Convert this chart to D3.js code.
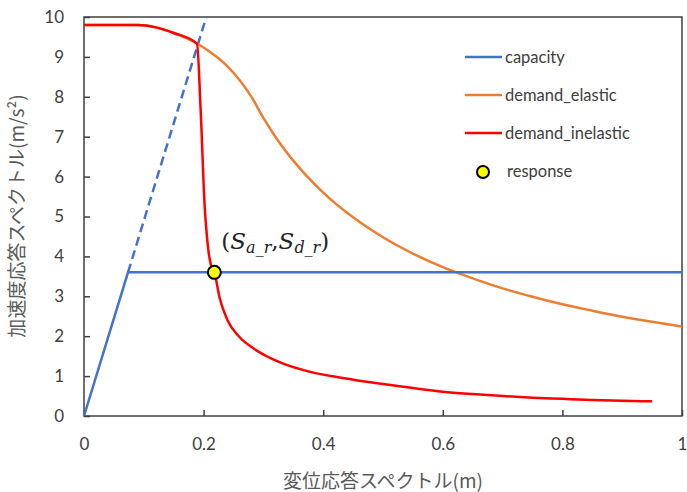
<!DOCTYPE html>
<html>
<head>
<meta charset="utf-8">
<script src="https://d3js.org/d3.v7.min.js"></script>
<style>
  body { margin: 0; background: #fff; }
  text { font-family: Lato, "Noto Sans CJK JP", sans-serif; }
</style>
</head>
<body>
<svg id="chart" width="687" height="492"></svg>
<script>
// capacity curve (bilinear) and its elastic extension
var capacitySd = [0, 0.0736, 1.0];
var capacitySa = [0, 3.6, 3.6];
var extensionSd = [0.0736, 0.2045];
var extensionSa = [3.6, 10];

// elastic demand spectrum
var elasticSd = [0, 0.05, 0.09, 0.12, 0.15, 0.19, 0.22, 0.24, 0.26, 0.28, 0.3, 0.32, 0.35, 0.4, 0.45, 0.5, 0.55, 0.6, 0.65, 0.7, 0.75, 0.8, 0.85, 0.9, 0.95, 1.0];
var elasticSa = [9.8, 9.8, 9.8, 9.74, 9.6, 9.33, 9.02, 8.76, 8.42, 8.0, 7.47, 7.0, 6.4, 5.6, 4.98, 4.48, 4.07, 3.73, 3.45, 3.2, 2.99, 2.8, 2.64, 2.49, 2.36, 2.24];

// inelastic demand spectrum
var inelasticSd = [0, 0.05, 0.09, 0.12, 0.15, 0.189, 0.195, 0.202, 0.205, 0.208, 0.212, 0.218, 0.227, 0.24, 0.26, 0.285, 0.33, 0.38, 0.43, 0.5, 0.55, 0.6, 0.65, 0.7, 0.75, 0.8, 0.85, 0.9, 0.95];
var inelasticSa = [9.8, 9.8, 9.8, 9.74, 9.6, 9.33, 7.7, 5.2, 4.6, 4.15, 3.8, 3.6, 2.95, 2.4, 1.98, 1.68, 1.33, 1.1, 0.96, 0.8, 0.7, 0.61, 0.55, 0.5, 0.46, 0.43, 0.4, 0.38, 0.37];

// response point
var responseSd = [0.218];
var responseSa = [3.6];

var xTicks = [0, 0.2, 0.4, 0.6, 0.8, 1];
var yTicks = [0, 1, 2, 3, 4, 5, 6, 7, 8, 9, 10];

var legendNames = ["capacity", "demand_elastic", "demand_inelastic", "response"];
var colors = { capacity: "#4472C4", elastic: "#ED7D31", inelastic: "#FF0000" };

var svg = d3.select("#chart");
var margin = { left: 84, top: 17, right: 5, bottom: 76 };
var width = 682 - margin.left, height = 416 - margin.top;

var x = d3.scaleLinear().domain([0, 1]).range([margin.left, margin.left + width]);
var y = d3.scaleLinear().domain([0, 10]).range([margin.top + height, margin.top]);

function pts(xs, ys) { return xs.map(function (v, i) { return [v, ys[i]]; }); }

var line = d3.line()
    .x(function (d) { return x(d[0]); })
    .y(function (d) { return y(d[1]); });
var smooth = d3.line()
    .x(function (d) { return x(d[0]); })
    .y(function (d) { return y(d[1]); })
    .curve(d3.curveMonotoneX);

// axes with inside ticks
var xAxis = svg.append("g")
    .attr("transform", "translate(0," + y(0) + ")")
    .call(d3.axisBottom(x).tickValues(xTicks).tickSizeInner(-6).tickSizeOuter(0).tickPadding(22)
        .tickFormat(function (d) { return d === 0 ? "0" : d === 1 ? "1" : d3.format(".1f")(d); }));
var yAxis = svg.append("g")
    .attr("transform", "translate(" + x(0) + ",0)")
    .call(d3.axisLeft(y).tickValues(yTicks).tickSizeInner(-6).tickSizeOuter(0).tickPadding(20));

[xAxis, yAxis].forEach(function (g) {
    g.select(".domain").remove();
    g.selectAll(".tick line").attr("stroke", "#404040").attr("stroke-width", 1.5);
    g.selectAll(".tick text").attr("fill", "#404040").style("font-size", "17px")
        .style("font-family", "Lato, sans-serif");
});

// plot frame
svg.append("rect")
    .attr("x", x(0)).attr("y", y(10))
    .attr("width", x(1) - x(0)).attr("height", y(0) - y(10))
    .attr("fill", "none").attr("stroke", "#404040").attr("stroke-width", 1.5);

// curves
svg.append("path").attr("d", line(pts(extensionSd, extensionSa)))
    .attr("fill", "none").attr("stroke", colors.capacity).attr("stroke-width", 2.5)
    .attr("stroke-dasharray", "9,5");
svg.append("path").attr("d", smooth(pts(elasticSd, elasticSa)))
    .attr("fill", "none").attr("stroke", colors.elastic).attr("stroke-width", 2.5);
svg.append("path").attr("d", line(pts(capacitySd, capacitySa)))
    .attr("fill", "none").attr("stroke", colors.capacity).attr("stroke-width", 2.5);
svg.append("path").attr("d", smooth(pts(inelasticSd, inelasticSa)))
    .attr("fill", "none").attr("stroke", colors.inelastic).attr("stroke-width", 2.5);

svg.selectAll(".resp").data(pts(responseSd, responseSa)).enter().append("circle")
    .attr("cx", function (d) { return x(d[0]); })
    .attr("cy", function (d) { return y(d[1]); })
    .attr("r", 6.5).attr("fill", "#FFFF00").attr("stroke", "#000").attr("stroke-width", 2);

// response annotation
var ann = svg.append("text")
    .attr("x", x(responseSd[0]) + 7).attr("y", y(responseSa[0]) - 23)
    .attr("fill", "#222")
    .style("font-family", "'DejaVu Serif', 'Liberation Serif', serif")
    .style("font-size", "23px");
ann.append("tspan").text("(");
ann.append("tspan").attr("font-style", "italic").text("S");
ann.append("tspan").attr("font-style", "italic").attr("font-size", "16px").attr("dy", 4).text("a_r");
ann.append("tspan").attr("dy", -4).text(",");
ann.append("tspan").attr("font-style", "italic").text("S");
ann.append("tspan").attr("font-style", "italic").attr("font-size", "16px").attr("dy", 4).text("d_r");
ann.append("tspan").attr("dy", -4).text(")");

// legend
var legend = svg.append("g").attr("transform", "translate(465,57)");
legendNames.forEach(function (name, i) {
    var g = legend.append("g").attr("transform", "translate(0," + (i * 38) + ")");
    if (i < 3) {
        var c = [colors.capacity, colors.elastic, colors.inelastic][i];
        g.append("line").attr("x1", 0).attr("x2", 37).attr("y1", 0).attr("y2", 0)
            .attr("stroke", c).attr("stroke-width", 2.5);
    } else {
        g.append("circle").attr("cx", 18).attr("cy", 1).attr("r", 6)
            .attr("fill", "#FFFF00").attr("stroke", "#000").attr("stroke-width", 2);
    }
    g.append("text").attr("x", i < 3 ? 40 : 42).attr("y", 0).attr("dy", "0.35em")
        .attr("fill", "#404040").style("font-size", "16.5px").text(name);
});

// axis titles
svg.append("text")
    .attr("x", (x(0) + x(1)) / 2).attr("y", 488)
    .attr("text-anchor", "middle").attr("fill", "#595959")
    .style("font-family", "'Noto Sans CJK JP', sans-serif").style("font-size", "19px")
    .text("変位応答スペクトル(m)");

svg.append("text")
    .attr("transform", "translate(24," + 216 + ") rotate(-90)")
    .attr("text-anchor", "middle").attr("fill", "#595959")
    .style("font-family", "'Noto Sans CJK JP', sans-serif").style("font-size", "19px")
    .text("加速度応答スペクトル(m/s²)");
</script>
</body>
</html>
